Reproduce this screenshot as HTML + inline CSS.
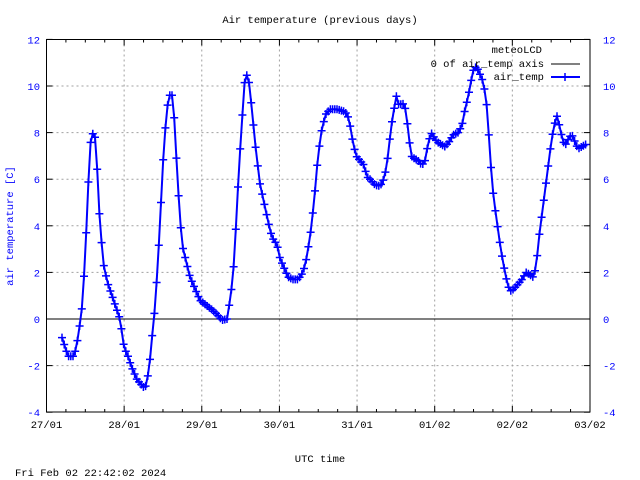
<!DOCTYPE html>
<html><head><meta charset="utf-8"><style>
html,body{margin:0;padding:0;background:#fff;}
svg{display:block;}
text{font-family:"Liberation Mono","DejaVu Sans Mono",monospace;font-size:10.5px;}
</style></head><body>
<svg id="s" width="640" height="480" xmlns="http://www.w3.org/2000/svg">
<rect width="640" height="480" fill="#fff"/>
<g id="grid" stroke="#a0a0a0" stroke-width="1" stroke-dasharray="2,3"></g>
<g id="axes"></g>
<line x1="46.5" y1="319" x2="590" y2="319" stroke="#000" stroke-width="1"/>
<path id="curve" fill="none" stroke="#0000ff" stroke-width="2"/>
<path id="marks" fill="none" stroke="#0000ff" stroke-width="1.5"/>
<rect x="46.5" y="39.5" width="543.5" height="372.5" fill="none" stroke="#000" stroke-width="1"/>
<text x="320" y="23" text-anchor="middle">Air temperature (previous days)</text>
<text x="320" y="462" text-anchor="middle">UTC time</text>
<text x="15" y="476">Fri Feb 02 22:42:02 2024</text>
<text x="13" y="226" text-anchor="middle" fill="#0000ff" transform="rotate(-90 13 226)">air temperature [C]</text>
<text x="542" y="53" text-anchor="end">meteoLCD</text>
<text x="544" y="67" text-anchor="end">0 of air_temp axis</text>
<line x1="551" y1="64" x2="580" y2="64" stroke="#000" stroke-width="1"/>
<text x="544" y="80" text-anchor="end">air_temp</text>
<line x1="551" y1="77" x2="580" y2="77" stroke="#0000ff" stroke-width="2"/>
<path d="M561 77h8M565 73v8" stroke="#0000ff" stroke-width="1.5"/>
</svg>
<script>
var ns="http://www.w3.org/2000/svg",s=document.getElementById('s'),g=document.getElementById('grid'),ax=document.getElementById('axes');
function el(p,t,a,txt){var e=document.createElementNS(ns,t);for(var k in a)e.setAttribute(k,a[k]);if(txt!==undefined)e.textContent=txt;p.appendChild(e);return e;}
var L=46.5,R=590,T=39.5,B=412;
function Y(v){return 319-v*23.3;}
for(var v=-4;v<=12;v+=2){var y=Y(v);
 if(v>-4&&v<12&&v!=0)el(g,'line',{x1:L,y1:y,x2:R,y2:y});
 el(ax,'line',{x1:L,y1:y,x2:L+6,y2:y,stroke:'#000'});el(ax,'line',{x1:R,y1:y,x2:R-6,y2:y,stroke:'#000'});
 el(s,'text',{x:40,y:y+4,'text-anchor':'end',fill:'#0000ff'},''+v);
 el(s,'text',{x:603,y:y+4,fill:'#0000ff'},''+v);}
var labs=['27/01','28/01','29/01','30/01','31/01','01/02','02/02','03/02'];
for(var i=0;i<8;i++){var x=L+i*77.64;
 if(i>0&&i<7)el(g,'line',{x1:x,y1:T,x2:x,y2:B});
 el(ax,'line',{x1:x,y1:B,x2:x,y2:B-6,stroke:'#000'});el(ax,'line',{x1:x,y1:T,x2:x,y2:T+6,stroke:'#000'});
 el(s,'text',{x:x,y:428,'text-anchor':'middle'},labs[i]);
 if(i<7)for(var j=1;j<4;j++){var xx=x+j*19.41;el(ax,'line',{x1:xx,y1:B,x2:xx,y2:B-3,stroke:'#000'});el(ax,'line',{x1:xx,y1:T,x2:xx,y2:T+3,stroke:'#000'});}}
var d=[62,-0.8,65,-1.2,68,-1.6,73,-1.6,76,-1.3,79,-0.5,82,0.5,85,2.5,88,5.5,90,7.4,92,8.0,95,7.8,97,6.6,100,4,104,2.2,108,1.5,112,1.0,116,0.5,120,0.0,124,-1.2,128,-1.6,132,-2.1,137,-2.6,145,-3.0,149,-2.2,152,-0.8,155,0.5,158,2.5,161,5,164,7.5,167,9,169,9.6,172,9.6,174,8.8,176,7.2,179,5,182,3.2,186,2.5,190,1.8,195,1.3,200,0.8,206,0.6,212,0.4,217,0.2,222,-0.05,227,0,230,0.8,233,1.8,236,4,239,6.5,242,8.5,245,10.4,248,10.5,250,9.8,253,8.5,256,7.2,260,5.8,264,5,268,4.2,272,3.5,277,3.2,280,2.6,284,2.2,288,1.8,293,1.7,298,1.7,303,2.0,306,2.5,310,3.5,314,5,318,7,322,8.2,326,8.8,330,9.0,337,9.0,345,8.9,349,8.6,352,7.8,356,7,360,6.8,364,6.6,367,6.1,370,6.0,374,5.8,378,5.7,382,5.8,385,6.2,388,7,391,8.2,394,9,397,9.7,399,9.1,402,9.3,405,9.1,408,8.2,411,7,414,6.9,418,6.8,422,6.6,425,6.8,428,7.5,431,8.0,434,7.8,437,7.6,441,7.5,445,7.4,449,7.6,453,7.9,458,8.0,462,8.3,465,9.0,468,9.5,471,10.2,474,10.8,477,10.8,480,10.5,483,10.2,486,9.5,488,8.5,490,7.0,492,6.0,494,5.0,496,4.5,499,3.5,502,2.7,505,2.0,508,1.4,511,1.2,514,1.3,518,1.5,522,1.7,526,2.0,530,1.9,533,1.8,536,2.2,539,3.5,542,4.5,545,5.5,548,6.5,551,7.5,554,8.3,557,8.7,560,8.2,563,7.6,566,7.5,569,7.8,572,7.9,575,7.6,578,7.3,582,7.4,586,7.5];
var p='',m='',k=0;
for(var x=62;x<=586;x+=2.2){while(k<d.length-4&&d[k+2]<x)k+=2;var t=(x-d[k])/(d[k+2]-d[k]);if(t>1)t=1;var v=d[k+1]+t*(d[k+3]-d[k+1]);var y=Y(v);
 p+=(p?'L':'M')+x.toFixed(1)+' '+y.toFixed(1);m+='M'+(x-4).toFixed(1)+' '+y.toFixed(1)+'h8M'+x.toFixed(1)+' '+(y-4).toFixed(1)+'v8';}
document.getElementById('curve').setAttribute('d',p);document.getElementById('marks').setAttribute('d',m);
</script>
</body></html>
